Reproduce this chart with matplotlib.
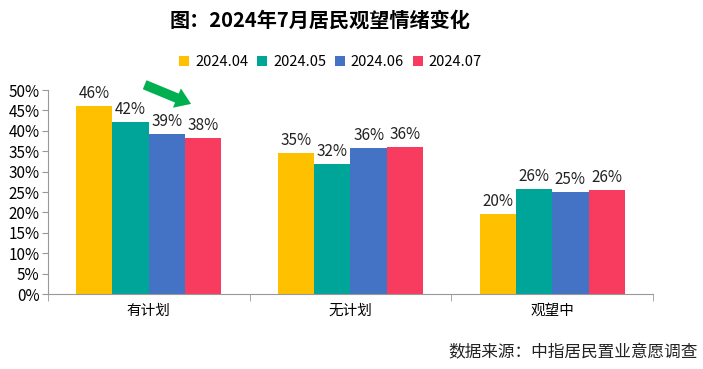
import numpy as np
import matplotlib.pyplot as plt
from matplotlib.ticker import FixedLocator, NullFormatter

plt.rcParams['font.family'] = ['Noto Sans CJK SC', 'DejaVu Sans']

categories = ['有计划', '无计划', '观望中']
months = ['2024.04', '2024.05', '2024.06', '2024.07']
values = {
    '2024.04': [46, 35, 20],
    '2024.05': [42, 32, 26],
    '2024.06': [39, 36, 25],
    '2024.07': [38, 36, 26],
}
# bar heights a bit finer than the rounded labels
heights = {
    '2024.04': [46.1, 34.6, 19.6],
    '2024.05': [42.2, 31.9, 25.7],
    '2024.06': [39.2, 35.8, 25.0],
    '2024.07': [38.2, 36.0, 25.5],
}
colors = ['#FFC000', '#00A59A', '#4472C4', '#F73C60']
yticks = list(range(0, 51, 5))

fig = plt.figure(figsize=(7.03, 3.69), dpi=100)
ax = fig.add_axes([0.068, 0.203, 0.861, 0.553])

x = np.arange(len(categories))
w = 0.18
for i, m in enumerate(months):
    pos = x + (i - 1.5) * w
    ax.bar(pos, heights[m], w, color=colors[i], label=m)
    for xp, h, v in zip(pos, heights[m], values[m]):
        ax.text(xp, h + 1.0, f'{v}%', ha='center', va='bottom', fontsize=11, color='#222222')

ax.set_xlim(-0.5, 2.5)
ax.set_ylim(0, 50)
ax.set_yticks(yticks)
ax.set_yticklabels([f'{t}%' for t in yticks], fontsize=11)
ax.set_xticks(x)
ax.set_xticklabels(categories, fontsize=10.5)
ax.tick_params(axis='x', length=0, pad=7)
ax.xaxis.set_minor_locator(FixedLocator([-0.5, 0.5, 1.5, 2.5]))
ax.xaxis.set_minor_formatter(NullFormatter())
ax.tick_params(axis='x', which='minor', length=5, color='#999999')
ax.tick_params(axis='y', length=4, color='#999999', pad=2)

for s in ['top', 'right']:
    ax.spines[s].set_visible(False)
ax.spines['left'].set_color('#999999')
ax.spines['bottom'].set_color('#999999')

# green trend arrow
ax.annotate('', xy=(0.21, 46.6), xytext=(-0.02, 51.3),
            arrowprops=dict(arrowstyle='simple,head_width=1.5,head_length=1.1,tail_width=0.7',
                            mutation_scale=10, color='#00B050', lw=0, shrinkA=0, shrinkB=0),
            annotation_clip=False)

fig.text(0.455, 0.945, '图：2024年7月居民观望情绪变化', ha='center', va='center',
         fontsize=14.5, fontweight='bold')
fig.legend(loc='center', bbox_to_anchor=(0.47, 0.832), ncol=4, frameon=False,
           fontsize=10.5, handlelength=0.7, handleheight=0.7, handletextpad=0.4,
           columnspacing=0.6)
fig.text(0.993, 0.045, '数据来源：中指居民置业意愿调查', ha='right', va='center',
         fontsize=12, color='#222222')

fig.savefig('out.png', dpi=100)
